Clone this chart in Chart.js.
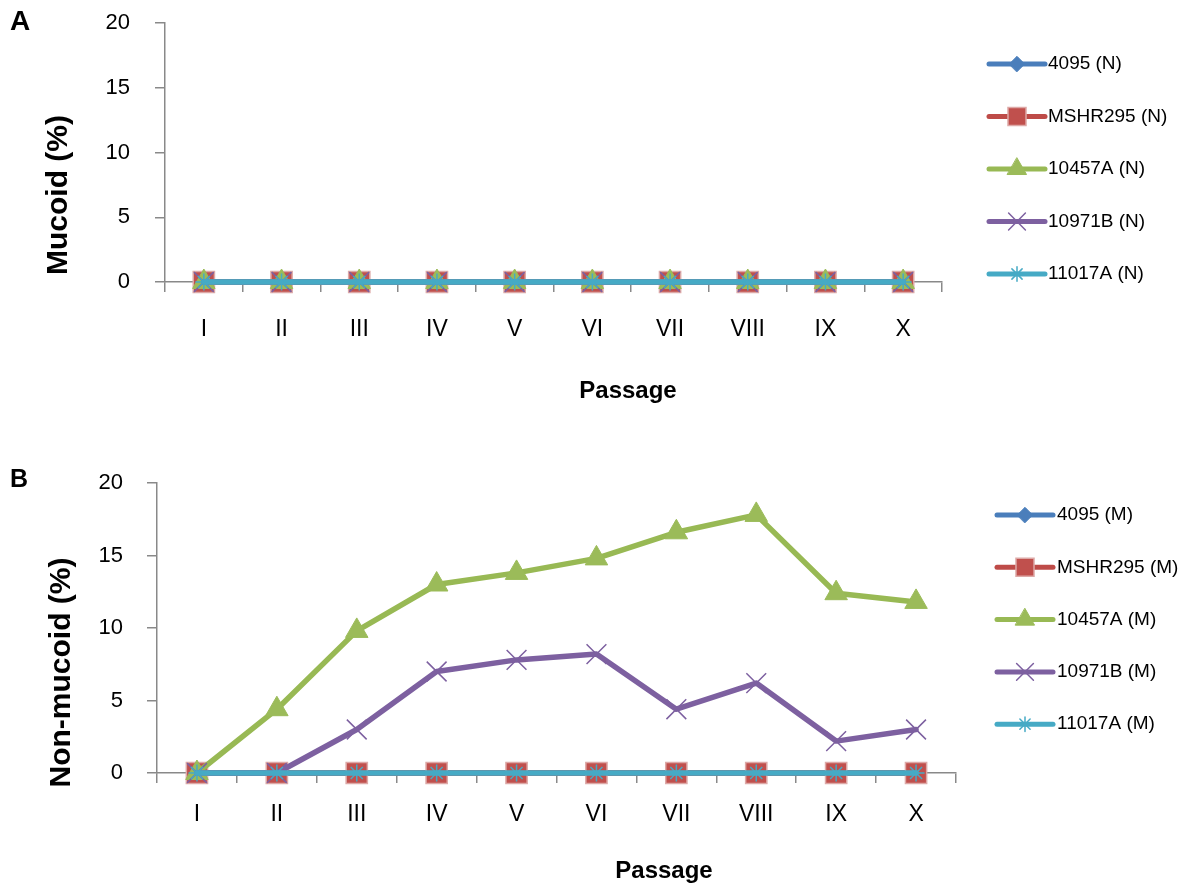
<!DOCTYPE html>
<html>
<head>
<meta charset="utf-8">
<script src="https://cdn.jsdelivr.net/npm/chart.js@4.4.1/dist/chart.umd.min.js"></script>
<style>
  html, body { margin: 0; padding: 0; background: #ffffff; }
  #wrap { position: relative; width: 1187px; height: 890px; }
  .panel { position: absolute; left: 0; width: 1187px; height: 445px; }
</style>
</head>
<body>
<div id="wrap">
  <div class="panel" style="top:0"><canvas id="chartA" width="1187" height="445"></canvas></div>
  <div class="panel" style="top:445px"><canvas id="chartB" width="1187" height="445"></canvas></div>
</div>
<script>
// ---- data ----
const passages = ['I', 'II', 'III', 'IV', 'V', 'VI', 'VII', 'VIII', 'IX', 'X'];
const strains = ['4095', 'MSHR295', '10457A', '10971B', '11017A'];
const yTickValues = [0, 5, 10, 15, 20];

// Panel A: mucoid colonies (%) per passage
const mucoid4095    = [0, 0, 0, 0, 0, 0, 0, 0, 0, 0];
const mucoidMSHR295 = [0, 0, 0, 0, 0, 0, 0, 0, 0, 0];
const mucoid10457A  = [0, 0, 0, 0, 0, 0, 0, 0, 0, 0];
const mucoid10971B  = [0, 0, 0, 0, 0, 0, 0, 0, 0, 0];
const mucoid11017A  = [0, 0, 0, 0, 0, 0, 0, 0, 0, 0];

// Panel B: non-mucoid colonies (%) per passage
const nonMucoid4095    = [0, 0, 0, 0, 0, 0, 0, 0, 0, 0];
const nonMucoidMSHR295 = [0, 0, 0, 0, 0, 0, 0, 0, 0, 0];
const nonMucoid10457A  = [0, 4.4, 9.8, 13.0, 13.8, 14.8, 16.6, 17.8, 12.4, 11.8];
const nonMucoid10971B  = [0, 0, 3.0, 7.0, 7.8, 8.2, 4.4, 6.2, 2.2, 3.0];
const nonMucoid11017A  = [0, 0, 0, 0, 0, 0, 0, 0, 0, 0];

// ---- styling ----
const FONT = '"Liberation Sans", Arial, Helvetica, sans-serif';
const AXIS_COLOR = '#898989';
const seriesStyle = [
  { line: '#4A7EBB', fill: '#4A7EBB', edge: '#4A7EBB', pointStyle: 'rectRot',  radius: 9,  edgeWidth: 1 },
  { line: '#BE4B48', fill: '#C0504D', edge: '#DDA9A7', pointStyle: 'rect',     radius: 15, edgeWidth: 1.5 },
  { line: '#98B954', fill: '#9BBB59', edge: '#9BBB59', pointStyle: 'triangle', radius: 13, edgeWidth: 1 },
  { line: '#7D60A0', fill: '#7D60A0', edge: '#7D60A0', pointStyle: 'crossRot', radius: 14, edgeWidth: 1.5 },
  { line: '#46AAC5', fill: '#46AAC5', edge: '#46AAC5', pointStyle: 'star',     radius: 8.5, edgeWidth: 1.5 }
];

function buildDatasets(seriesValues, suffix) {
  return seriesValues.map((values, i) => {
    const s = seriesStyle[i];
    return {
      label: strains[i] + ' ' + suffix,
      data: values,
      borderColor: s.line,
      backgroundColor: s.fill,
      borderWidth: 5.5,
      borderJoinStyle: 'round',
      borderCapStyle: 'round',
      tension: 0,
      pointStyle: s.pointStyle,
      pointRadius: s.radius,
      pointHoverRadius: s.radius,
      pointBackgroundColor: s.fill,
      pointBorderColor: s.edge,
      pointBorderWidth: s.edgeWidth,
      order: seriesValues.length - i,   // later series sit on top
      clip: false
    };
  });
}

// Axis titles, panel letter and the line+marker legend
const overlayPlugin = {
  id: 'overlay',
  afterDraw(chart, args, o) {
    const ctx = chart.ctx;
    ctx.save();
    ctx.fillStyle = '#000';

    ctx.font = 'bold ' + o.letterSize + 'px ' + FONT;
    ctx.textAlign = 'left';
    ctx.textBaseline = 'alphabetic';
    ctx.fillText(o.letter, o.letterX, o.letterY);

    ctx.save();
    ctx.translate(o.yTitleX, o.yTitleY);
    ctx.rotate(-Math.PI / 2);
    ctx.font = 'bold 30px ' + FONT;
    ctx.textAlign = 'center';
    ctx.textBaseline = 'alphabetic';
    ctx.fillText(o.yTitle, 0, 0);
    ctx.restore();

    ctx.font = 'bold 24px ' + FONT;
    ctx.textAlign = 'center';
    ctx.textBaseline = 'middle';
    ctx.fillText(o.xTitle, o.xTitleX, o.xTitleY);

    chart.data.datasets.forEach((ds, i) => {
      const y = o.legendTop + i * o.legendGap;
      ctx.strokeStyle = ds.borderColor;
      ctx.lineWidth = 5;
      ctx.lineCap = 'round';
      ctx.beginPath();
      ctx.moveTo(o.legendX0, y);
      ctx.lineTo(o.legendX1, y);
      ctx.stroke();

      ctx.fillStyle = ds.pointBackgroundColor;
      ctx.strokeStyle = ds.pointBorderColor;
      ctx.lineWidth = ds.pointBorderWidth;
      Chart.helpers.drawPoint(ctx, {
        pointStyle: ds.pointStyle,
        radius: ds.pointRadius * 0.85,
        borderWidth: ds.pointBorderWidth,
        rotation: 0
      }, (o.legendX0 + o.legendX1) / 2, y);

      ctx.fillStyle = '#000';
      ctx.font = '19px ' + FONT;
      ctx.textAlign = 'left';
      ctx.textBaseline = 'middle';
      ctx.fillText(ds.label, o.legendTextX, y);
    });
    ctx.restore();
  }
};

function makeChart(id, datasets, box, overlay, xPad, yPad) {
  const canvas = document.getElementById(id);
  const H = canvas.height, W = canvas.width;
  return new Chart(canvas, {
    type: 'line',
    data: { labels: passages, datasets },
    options: {
      responsive: false,
      animation: false,
      events: [],
      layout: { padding: { top: box.top, right: W - box.right, left: 0, bottom: 0 } },
      plugins: { legend: { display: false }, tooltip: { enabled: false }, overlay },
      scales: {
        x: {
          type: 'category',
          offset: true,
          afterFit(scale) {
            scale.height = H - box.bottom;
            scale.paddingLeft = 0;
            scale.paddingRight = 0;
          },
          grid: { display: true, offset: true, drawOnChartArea: false, drawTicks: true,
                  tickLength: 10, color: AXIS_COLOR, lineWidth: 1.5 },
          border: { display: true, color: AXIS_COLOR, width: 1.5 },
          ticks: { color: '#000', padding: xPad, maxRotation: 0, autoSkip: false,
                   font: { family: FONT, size: 23 } }
        },
        y: {
          min: yTickValues[0],
          max: yTickValues[yTickValues.length - 1],
          afterFit(scale) {
            scale.width = box.left;
            scale.paddingTop = 0;
            scale.paddingBottom = 0;
          },
          afterBuildTicks(scale) { scale.ticks = yTickValues.map(v => ({ value: v })); },
          grid: { display: true, drawOnChartArea: false, drawTicks: true,
                  tickLength: 10, color: AXIS_COLOR, lineWidth: 1.5 },
          border: { display: true, color: AXIS_COLOR, width: 1.5 },
          ticks: { color: '#000', padding: yPad, font: { family: FONT, size: 22 } }
        }
      }
    },
    plugins: [overlayPlugin]
  });
}

makeChart('chartA',
  buildDatasets([mucoid4095, mucoidMSHR295, mucoid10457A, mucoid10971B, mucoid11017A], '(N)'),
  { left: 165, right: 942, top: 23, bottom: 282 },
  { letter: 'A', letterSize: 28, letterX: 10, letterY: 30,
    yTitle: 'Mucoid (%)', yTitleX: 67, yTitleY: 195,
    xTitle: 'Passage', xTitleX: 628, xTitleY: 391,
    legendX0: 989, legendX1: 1045, legendTextX: 1048, legendTop: 64, legendGap: 52.5 },
  24, 25);

makeChart('chartB',
  buildDatasets([nonMucoid4095, nonMucoidMSHR295, nonMucoid10457A, nonMucoid10971B, nonMucoid11017A], '(M)'),
  { left: 157, right: 956, top: 38, bottom: 328 },
  { letter: 'B', letterSize: 25, letterX: 10, letterY: 42,
    yTitle: 'Non-mucoid (%)', yTitleX: 69.5, yTitleY: 227.5,
    xTitle: 'Passage', xTitleX: 664, xTitleY: 426.5,
    legendX0: 997, legendX1: 1053, legendTextX: 1057, legendTop: 70, legendGap: 52.3 },
  18, 24);
</script>
</body>
</html>
